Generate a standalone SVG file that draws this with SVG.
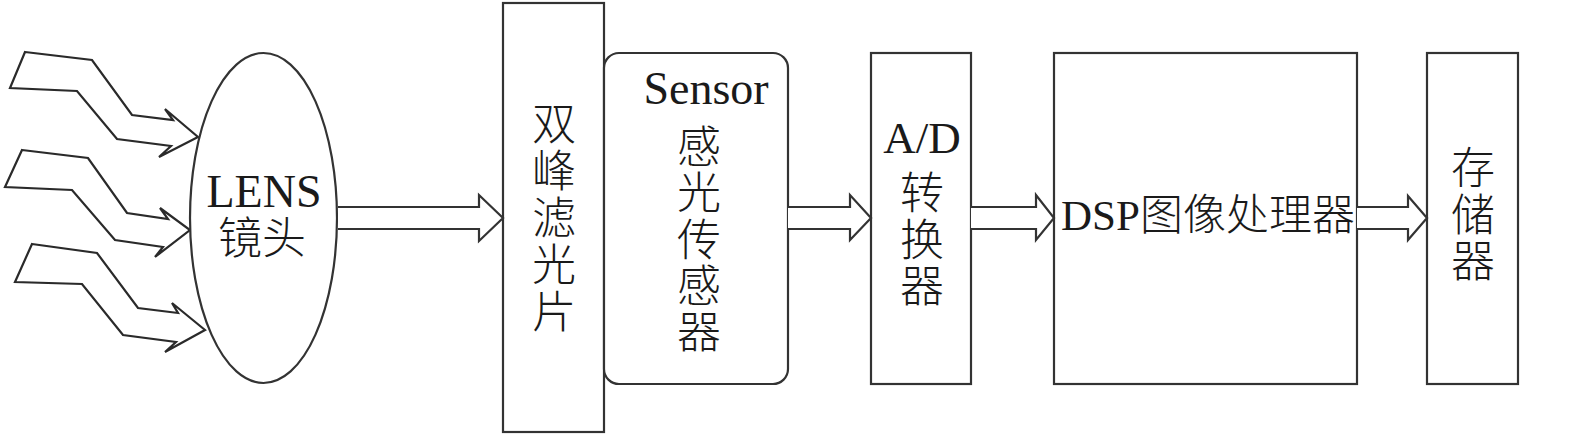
<svg xmlns="http://www.w3.org/2000/svg" width="1575" height="434" viewBox="0 0 1575 434">
<style>
.box{fill:#fff;stroke:#333;stroke-width:2.2}
.arr{fill:#fff;stroke:#333;stroke-width:2.2;stroke-linejoin:miter}
.lt{fill:none;stroke:#2a2a2a;stroke-width:2.2;stroke-linejoin:miter}
.lat{font-family:"Liberation Serif","Noto Sans CJK SC",serif;fill:#1a1a1a;font-weight:300}
.cjk{font-family:"Liberation Serif","Noto Sans CJK SC",serif;fill:#1a1a1a;font-weight:300;font-size:44px;text-anchor:middle;dominant-baseline:central}
</style>
<rect width="1575" height="434" fill="#fff"/>
<g id="connectors">
<polygon class="lt" points="25,52 92,60 132,115 173,120 165,109 198,137 159,157 171,146 117,139 77,91 10,88"/>
<polygon class="lt" points="22,150 88,158 127,213 168,219 160,208 190,230 155,257 163,247 115,240 72,190 5,187"/>
<polygon class="lt" points="32,244 97,253 138,308 178,313 172,303 205,330 165,352 176,342 123,335 82,284 15,282"/>
</g>
<g id="lens">
<ellipse class="box" cx="263.5" cy="218" rx="73.5" ry="165"/>
<text class="lat" x="264" y="207" font-size="46" text-anchor="middle">LENS</text>
<text class="cjk" x="262" y="239">镜头</text>
</g>
<g id="filter">
<rect class="box" x="503" y="3" width="101" height="429"/>
<text class="cjk"><tspan x="554" y="125">双</tspan><tspan x="554" y="172">峰</tspan><tspan x="554" y="219">滤</tspan><tspan x="554" y="266">光</tspan><tspan x="554" y="313">片</tspan></text>
</g>
<g id="sensor">
<rect class="box" x="604" y="53" width="184" height="331" rx="15" ry="15"/>
<text class="lat" x="706" y="104" font-size="46" text-anchor="middle">Sensor</text>
<text class="cjk"><tspan x="699" y="148">感</tspan><tspan x="699" y="194">光</tspan><tspan x="699" y="241">传</tspan><tspan x="699" y="287">感</tspan><tspan x="699" y="333">器</tspan></text>
</g>
<g id="adc">
<rect class="box" x="871" y="53" width="100" height="331"/>
<text class="lat" x="922" y="153" font-size="45" text-anchor="middle">A/D</text>
<text class="cjk"><tspan x="922" y="194">转</tspan><tspan x="922" y="241">换</tspan><tspan x="922" y="287">器</tspan></text>
</g>
<g id="dsp">
<rect class="box" x="1054" y="53" width="303" height="331"/>
<text class="lat" x="1208" y="230" font-size="43" text-anchor="middle">DSP图像处理器</text>
</g>
<g id="storage">
<rect class="box" x="1427" y="53" width="91" height="331"/>
<text class="cjk"><tspan x="1473" y="169">存</tspan><tspan x="1473" y="216">储</tspan><tspan x="1473" y="262">器</tspan></text>
</g>
<g id="flow">
<path class="arr" d="M338,207 H479 V195 L503,218 L479,241 V229 H338"/>
<path class="arr" d="M788,207 H850 V195 L871,218 L850,240 V229 H788"/>
<path class="arr" d="M971,207 H1036 V195 L1054,218 L1036,240 V229 H971"/>
<path class="arr" d="M1357,207 H1408 V196 L1427,218 L1408,240 V229 H1357"/>
</g>
</svg>
